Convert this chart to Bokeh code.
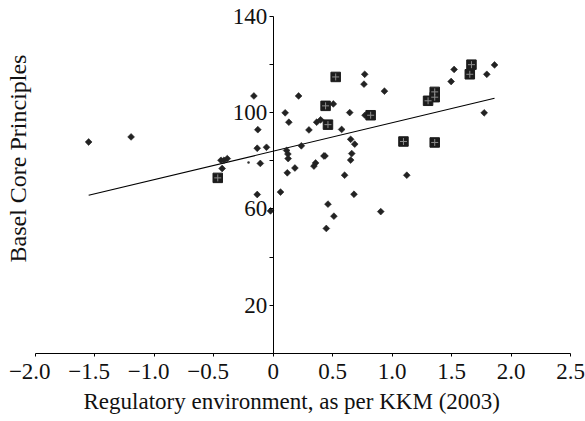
import numpy as np
from bokeh.plotting import figure
from bokeh.models import LinearAxis, FixedTicker, Range1d, Title
from bokeh.embed import file_html
from bokeh.resources import INLINE

# Regulatory environment (KKM 2003) vs. Basel Core Principles score
diamond_x = [-1.553, -1.196, -0.44, -0.415, -0.387, -0.43, -0.163, -0.13, -0.135, -0.057,
             -0.109, -0.135, 0.061, -0.023, 0.10, 0.131, 0.213, 0.112, 0.123, 0.125,
             0.118, 0.182, 0.236, 0.30, 0.365, 0.398, 0.505, 0.356, 0.342, 0.426,
             0.435, 0.575, 0.643, 0.651, 0.685, 0.66, 0.651, 0.60, 0.679, 0.769,
             0.763, 0.935, 0.772, 1.123, 0.46, 0.51, 0.446, 0.904, 1.496, 1.521,
             1.796, 1.861, 1.774]
diamond_y = [87.8, 89.9, 80.2, 80.2, 80.9, 76.8, 106.9, 92.9, 85.2, 85.6,
             78.9, 66.0, 67.0, 59.2, 99.9, 96.0, 106.9, 84.3, 82.8, 80.9,
             75.0, 77.0, 86.2, 92.8, 96.0, 97.0, 103.6, 79.1, 77.8, 82.0,
             82.0, 93.0, 100.0, 88.9, 86.9, 83.0, 80.3, 74.0, 66.1, 115.9,
             111.8, 108.9, 98.9, 74.0, 62.0, 57.0, 51.9, 58.9, 112.9, 117.9,
             115.9, 119.8, 99.9]

square_x = [-0.467, 0.44, 0.46, 0.525, 0.819, 1.095, 1.358, 1.302, 1.358, 1.358, 1.653, 1.667]
square_y = [72.9, 102.8, 95.0, 114.8, 98.9, 88.0, 87.6, 104.9, 108.6, 106.4, 115.9, 119.9]

dot_x = [-0.208]
dot_y = [79.3]

# Fitted regression line
trend_intercept = 84.0
trend_slope = 11.8

x_ticks = [-2.0, -1.5, -1.0, -0.5, 0.0, 0.5, 1.0, 1.5, 2.0, 2.5]
# negative labels carry a trailing en space so the digits sit centred on the tick
x_tick_labels = ["\u22122.0\u2002", "\u22121.5\u2002", "\u22121.0\u2002", "\u22120.5\u2002",
                 "0", "0.5", "1.0", "1.5", "2.0", "2.5"]
y_ticks = [20, 40, 60, 80, 100, 120, 140]
y_tick_labels = ["20", "", "60", "", "100", "", "140"]

x_title = "Regulatory environment, as per KKM (2003)"
y_title = "Basel Core Principles"

FONT = "Liberation Serif"
FSIZE = "23px"

# a little headroom above 140 so the top tick label is not cut
p = figure(width=585, height=421, x_range=Range1d(-2.0, 2.5), y_range=Range1d(0, 145.7),
           x_axis_type=None, y_axis_type=None,
           output_backend="svg", toolbar_location=None,
           min_border_left=35, min_border_right=15, min_border_top=2, min_border_bottom=68)
p.outline_line_color = None
p.background_fill_color = "white"
p.border_fill_color = "white"

xaxis = LinearAxis(ticker=FixedTicker(ticks=x_ticks),
                   major_label_overrides=dict(zip(x_ticks, x_tick_labels)))
xaxis.major_tick_in = 0
xaxis.major_tick_out = 3
xaxis.minor_tick_out = 0
xaxis.major_label_standoff = 2
xaxis.axis_line_color = "black"
xaxis.major_tick_line_color = "black"
xaxis.major_label_text_font = FONT
xaxis.major_label_text_font_size = FSIZE
xaxis.major_label_text_color = "#111"
p.add_layout(xaxis, "below")

yaxis = LinearAxis(fixed_location=0, ticker=FixedTicker(ticks=y_ticks), bounds=(0, 140),
                   major_label_overrides=dict(zip(y_ticks, y_tick_labels)))
yaxis.major_tick_in = 0
yaxis.major_tick_out = 4
yaxis.minor_tick_out = 0
yaxis.major_label_standoff = 2
yaxis.axis_line_color = "black"
yaxis.major_tick_line_color = "black"
yaxis.major_label_text_font = FONT
yaxis.major_label_text_font_size = FSIZE
yaxis.major_label_text_color = "#111"
p.add_layout(yaxis, "left")

# regression line across the observed range
all_x = np.array(diamond_x + square_x)
line_x = np.array([all_x.min(), all_x.max()])
line_y = trend_intercept + trend_slope * line_x
p.line(line_x, line_y, line_color="black", line_width=1.2)

p.scatter(diamond_x, diamond_y, marker="square", angle=np.pi / 4, size=4.8,
          fill_color="#222", line_color="#222", line_width=0.6)
p.scatter(dot_x, dot_y, marker="circle", size=2.5, fill_color="#333", line_color=None)
p.scatter(square_x, square_y, marker="square", size=9.5,
          fill_color="#1c1c1c", line_color="#1c1c1c")
p.scatter(square_x, square_y, marker="cross", size=7, line_color="#8c8c8c", line_width=1)

p.add_layout(Title(text=x_title, align="left", offset=48, standoff=0,
                   text_font=FONT, text_font_size=FSIZE, text_font_style="normal",
                   text_color="#111"), "below")
p.add_layout(Title(text=y_title, align="left", offset=91, standoff=6, vertical_align="top",
                   text_font=FONT, text_font_size="24px", text_font_style="normal",
                   text_color="#111"), "left")

open("out.html", "w").write(file_html(p, INLINE))
